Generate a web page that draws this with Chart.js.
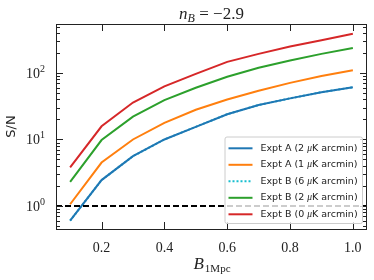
<!DOCTYPE html>
<html>
<head>
<meta charset="utf-8">
<script src="https://cdn.jsdelivr.net/npm/chart.js@4.4.1/dist/chart.umd.min.js"></script>
<style>
  html, body { margin: 0; padding: 0; background: #fff; }
  canvas { display: block; }
</style>
</head>
<body>
<canvas id="sn-chart" width="374" height="280"></canvas>
<script>
// B_1Mpc sample points
const xVals = [0.1, 0.2, 0.3, 0.4, 0.5, 0.6, 0.7, 0.8, 0.9, 1.0];
const exptA2 = [0.6, 2.45, 5.6, 10, 15.5, 24, 33, 41.5, 51.5, 61];
const exptA1 = [1.06, 4.5, 10, 17.8, 28, 40, 54, 71, 90, 110];
const exptB6 = [0.6, 2.45, 5.6, 10, 15.5, 24, 33, 41.5, 51.5, 61];
const exptB2 = [2.3, 9.8, 22, 39, 60, 88, 120, 154, 194, 238];
const exptB0 = [3.8, 15.8, 36, 63, 97, 147, 194, 250, 310, 390];

const seriesLabels = ['Expt A (2 ', 'Expt A (1 ', 'Expt B (6 ', 'Expt B (2 ', 'Expt B (0 '];
const threshold = 1;
const xTicks = [0.2, 0.4, 0.6, 0.8, 1.0];
const yTickExps = [0, 1, 2];
const titleText = { base: 'n', sub: 'B', rest: ' = \u22122.9' };

const toPts = (ys) => xVals.map((x, i) => ({ x: x, y: ys[i] }));

function makeSet(label, ys, color, dash) {
    return {
        label: label,
        data: toPts(ys),
        borderColor: color,
        backgroundColor: color,
        borderWidth: 2,
        borderDash: dash || [],
        pointRadius: 0,
        tension: 0,
        fill: false
    };
}

const datasets = [
    makeSet(seriesLabels[0], exptA2, '#1f77b4'),
    makeSet(seriesLabels[1], exptA1, '#ff7f0e'),
    makeSet(seriesLabels[2], exptB6, '#17becf', [2, 2]),
    makeSet(seriesLabels[3], exptB2, '#2ca02c'),
    makeSet(seriesLabels[4], exptB0, '#d62728')
];

const SERIF = '"Liberation Serif", "DejaVu Serif", serif';
const SANS = '"DejaVu Sans", sans-serif';
const INK = '#222';

// matplotlib-like frame: inward ticks on all four sides, math labels, legend box
const decor = {
    id: 'decor',
    afterDatasetsDraw(chart) {
        const ctx = chart.ctx, a = chart.chartArea;
        const yv = chart.scales.y.getPixelForValue(threshold);
        ctx.save();
        ctx.strokeStyle = '#000';
        ctx.lineWidth = 2;
        ctx.setLineDash([6, 3]);
        ctx.beginPath();
        ctx.moveTo(a.left, yv);
        ctx.lineTo(a.right, yv);
        ctx.stroke();
        ctx.restore();
    },
    afterDraw(chart) {
        const ctx = chart.ctx, a = chart.chartArea;
        const xs = chart.scales.x, ys = chart.scales.y;
        ctx.save();
        ctx.strokeStyle = INK;
        ctx.lineWidth = 1;
        ctx.setLineDash([]);

        // x ticks (bottom + top)
        ctx.beginPath();
        xTicks.forEach(v => {
            const px = Math.round(xs.getPixelForValue(v)) + 0.5;
            ctx.moveTo(px, a.bottom); ctx.lineTo(px, a.bottom - 7);
            ctx.moveTo(px, a.top); ctx.lineTo(px, a.top + 7);
        });
        // y major + minor ticks (left + right)
        for (let e = -1; e <= 2; e++) {
            for (let m = 1; m <= 9; m++) {
                const v = m * Math.pow(10, e);
                if (v < ys.min || v > ys.max) continue;
                const py = Math.round(ys.getPixelForValue(v)) + 0.5;
                const len = m === 1 ? 7 : 4;
                ctx.moveTo(a.left, py); ctx.lineTo(a.left + len, py);
                ctx.moveTo(a.right, py); ctx.lineTo(a.right - len, py);
            }
        }
        ctx.stroke();

        // frame
        ctx.strokeRect(Math.round(a.left) + 0.5, Math.round(a.top) + 0.5,
            Math.round(a.right - a.left) - 1, Math.round(a.bottom - a.top));

        // x tick labels
        ctx.fillStyle = INK;
        ctx.font = '14px ' + SERIF;
        ctx.textAlign = 'center';
        ctx.textBaseline = 'alphabetic';
        xTicks.forEach(v => {
            ctx.fillText(v.toFixed(1), xs.getPixelForValue(v), a.bottom + 23);
        });

        // y tick labels 10^e
        yTickExps.forEach(e => {
            const py = ys.getPixelForValue(Math.pow(10, e));
            ctx.font = '10px ' + SERIF;
            const wSup = ctx.measureText(String(e)).width;
            ctx.textAlign = 'right';
            ctx.fillText(String(e), a.left - 11, py - 1);
            ctx.font = '14px ' + SERIF;
            ctx.fillText('10', a.left - 11 - wSup, py + 5);
        });

        // title n_B = -2.9
        const cx = (a.left + a.right) / 2;
        ctx.textAlign = 'left';
        ctx.font = 'italic 17px ' + SERIF;
        const w1 = ctx.measureText(titleText.base).width;
        ctx.font = 'italic 12px ' + SERIF;
        const w2 = ctx.measureText(titleText.sub).width;
        ctx.font = '17px ' + SERIF;
        const w3 = ctx.measureText(titleText.rest).width;
        let tx = cx - (w1 + w2 + w3) / 2;
        ctx.font = 'italic 17px ' + SERIF;
        ctx.fillText(titleText.base, tx, 19); tx += w1;
        ctx.font = 'italic 12px ' + SERIF;
        ctx.fillText(titleText.sub, tx, 22); tx += w2;
        ctx.font = '17px ' + SERIF;
        ctx.fillText(titleText.rest, tx, 19);

        // x axis label B_1Mpc
        ctx.font = 'italic 17px ' + SERIF;
        const b1 = ctx.measureText('B').width;
        ctx.font = '11px ' + SERIF;
        const b2 = ctx.measureText('1Mpc').width;
        let bx = cx - (b1 + b2) / 2;
        ctx.font = 'italic 17px ' + SERIF;
        ctx.fillText('B', bx, 269);
        ctx.font = '11px ' + SERIF;
        ctx.fillText('1Mpc', bx + b1 + 1, 272);

        // y axis label
        ctx.save();
        ctx.translate(15, (a.top + a.bottom) / 2);
        ctx.rotate(-Math.PI / 2);
        ctx.textAlign = 'center';
        ctx.font = '13px ' + SANS;
        ctx.fillText('S/N', 0, 0);
        ctx.restore();

        // legend, lower right
        const lw = 137.5, lh = 86.5;
        const lx = a.right - 5 - lw, ly = a.bottom - 6 - lh;
        ctx.fillStyle = 'rgba(255,255,255,0.8)';
        ctx.strokeStyle = '#cccccc';
        ctx.lineWidth = 1;
        ctx.beginPath();
        ctx.roundRect(lx + 0.5, ly + 0.5, lw, lh, 2);
        ctx.fill();
        ctx.stroke();
        ctx.font = '9.5px ' + SANS;
        ctx.textBaseline = 'middle';
        chart.data.datasets.forEach((ds, i) => {
            const ry = ly + 11.8 + i * 16.5;
            ctx.strokeStyle = ds.borderColor;
            ctx.lineWidth = 2;
            ctx.setLineDash(ds.borderDash);
            ctx.beginPath();
            ctx.moveTo(lx + 4, ry);
            ctx.lineTo(lx + 28, ry);
            ctx.stroke();
            ctx.setLineDash([]);
            ctx.fillStyle = INK;
            ctx.textAlign = 'left';
            let t = lx + 36;
            ctx.font = '9.5px ' + SANS;
            ctx.fillText(ds.label, t, ry);
            t += ctx.measureText(ds.label).width;
            ctx.font = 'italic 9.5px ' + SERIF;
            ctx.fillText('\u03bc', t, ry);
            t += ctx.measureText('\u03bc').width;
            ctx.font = '9.5px ' + SANS;
            ctx.fillText('K arcmin)', t, ry);
        });
        ctx.restore();
    }
};

const chart = new Chart(document.getElementById('sn-chart').getContext('2d'), {
    type: 'line',
    data: { datasets: datasets },
    options: {
        responsive: false,
        animation: false,
        devicePixelRatio: 1,
        layout: { padding: { top: 24, right: 7, left: 0, bottom: 0 } },
        plugins: { legend: { display: false }, tooltip: { enabled: false } },
        scales: {
            x: {
                type: 'linear', min: 0.055, max: 1.045,
                grid: { display: false }, border: { display: false },
                ticks: { display: false },
                afterFit: (s) => { s.height = 51; }
            },
            y: {
                type: 'logarithmic', min: 0.45, max: 546,
                grid: { display: false }, border: { display: false },
                ticks: { display: false },
                afterFit: (s) => { s.width = 56; }
            }
        }
    },
    plugins: [decor]
});
</script>
</body>
</html>
